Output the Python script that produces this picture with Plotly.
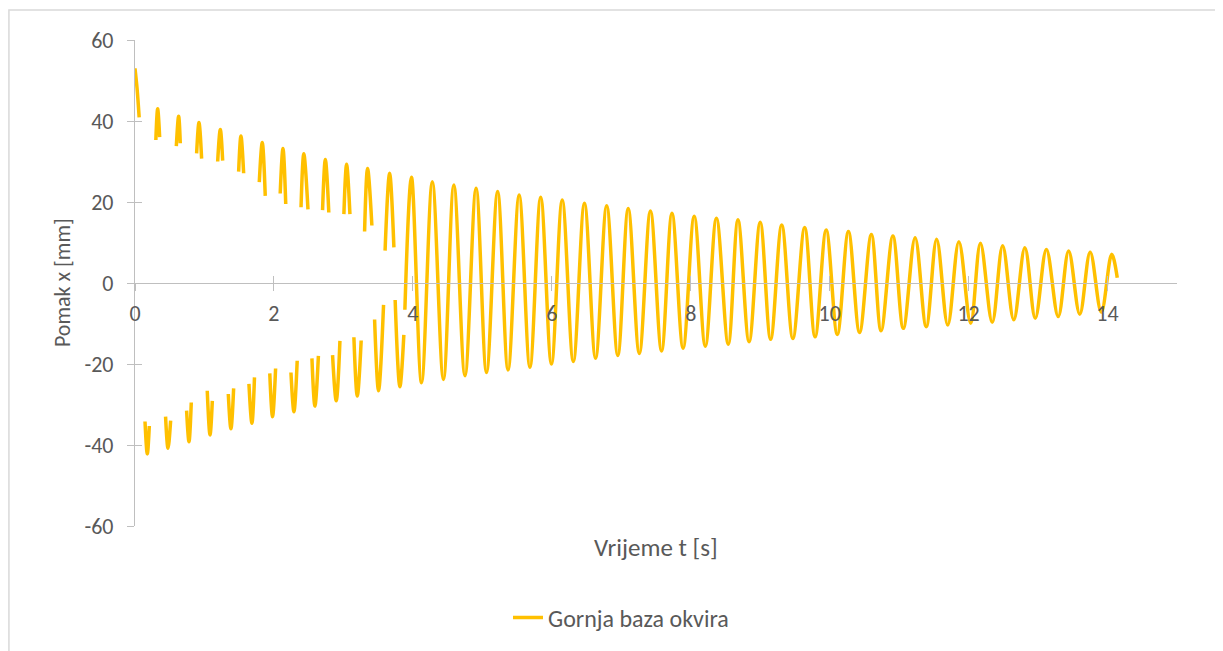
import plotly.graph_objects as go

# ---- data ----
# early part: only fragments near peaks / troughs exist (gaps = None)
early_t = [
    0.00, 0.03, 0.06, None,
    0.144, 0.177, 0.206, None,
    0.30, 0.326, 0.355, None,
    0.44, 0.475, 0.513, None,
    0.595, 0.628, 0.652, None,
    0.743, 0.777, 0.81, None,
    0.887, 0.921, 0.959, None,
    1.04, 1.08, 1.113, None,
    1.19, 1.228, 1.262, None,
    1.343, 1.381, 1.42, None,
    1.492, 1.525, 1.564, None,
    1.64, 1.683, 1.72, None,
    1.789, 1.832, 1.875, None,
    1.94, 1.98, 2.024, None,
    2.09, 2.13, 2.17, None,
    2.245, 2.288, 2.335, None,
    2.39, 2.43, 2.49, None,
    2.547, 2.59, 2.64, None,
    2.70, 2.74, 2.79, None,
    2.844, 2.897, 2.95, None,
    3.007, 3.046, 3.094, None,
    3.151, 3.20, 3.256, None,
    3.305, 3.348, 3.41, None,
    3.449, 3.506, 3.578, None,
    3.60, 3.665, 3.727, None,
    3.745, 3.813, 3.87, None,
]
early_x = [
    53.0, 48.0, 40.9, None,
    -34.2, -42.2, -35.3, None,
    35.3, 43.0, 36.0, None,
    -33.0, -40.8, -34.0, None,
    33.8, 41.2, 34.5, None,
    -31.5, -39.2, -29.5, None,
    32.0, 39.6, 30.7, None,
    -26.6, -37.5, -29.1, None,
    30.0, 37.9, 30.2, None,
    -27.4, -36.0, -26.0, None,
    27.5, 36.3, 27.1, None,
    -24.9, -34.6, -23.3, None,
    24.9, 34.7, 21.5, None,
    -22.3, -33.0, -21.1, None,
    22.1, 33.2, 19.5, None,
    -22.1, -31.8, -19.2, None,
    18.7, 31.9, 18.2, None,
    -18.6, -30.4, -18.0, None,
    18.0, 30.5, 17.4, None,
    -17.8, -29.1, -14.3, None,
    17.0, 29.3, 17.0, None,
    -13.4, -27.9, -14.2, None,
    12.7, 28.3, 14.2, None,
    -9.0, -26.6, -5.4, None,
    8.0, 27.1, 8.8, None,
    -4.2, -25.6, -12.8, None,
]

# continuous oscillation (extremes)
osc_t = [3.885, 3.98, 4.125, 4.28, 4.44, 4.59, 4.75, 4.91, 5.06, 5.22, 5.37,
         5.53, 5.685, 5.84, 5.995, 6.15, 6.31, 6.47, 6.63, 6.79, 6.95, 7.10,
         7.26, 7.42, 7.58, 7.73, 7.89, 8.05, 8.21, 8.37, 8.54, 8.68, 8.84,
         9.00, 9.15, 9.31, 9.47, 9.64, 9.79, 9.95, 10.11, 10.27, 10.43, 10.60,
         10.74, 10.91, 11.06, 11.23, 11.39, 11.54, 11.70, 11.86, 12.03, 12.17,
         12.34, 12.49, 12.65, 12.81, 12.96, 13.12, 13.29, 13.44, 13.60, 13.75,
         13.91, 14.06, 14.14]
osc_x = [-6.6, 26.1, -24.6, 25.0, -23.8, 24.2, -22.9, 23.4, -22.1, 22.6, -21.5,
         21.7, -20.8, 21.2, -20.0, 20.5, -19.4, 19.7, -18.6, 19.1, -17.9, 18.4,
         -17.4, 17.8, -16.8, 17.2, -16.1, 16.5, -15.6, 16.0, -15.1, 15.6, -14.5,
         15.0, -13.9, 14.3, -13.7, 13.7, -13.3, 13.1, -12.7, 12.7, -12.2, 12.0,
         -11.8, 11.6, -11.2, 11.2, -10.8, 10.8, -10.4, 10.2, -9.95, 9.8,
         -9.7, 9.2, -9.1, 8.7, -8.7, 8.3, -8.3, 7.9, -7.7, 7.6,
         -7.2, 7.1, 1.3]

x_ticks = [0, 2, 4, 6, 8, 10, 12, 14]
x_ticklabels = ["0", "2", "4", "6", "8", "10", "12", "14"]
y_ticks = [-60, -40, -20, 0, 20, 40, 60]
y_ticklabels = ["-60", "-40", "-20", "0", "20", "40", "60"]

series_name = "Gornja baza okvira"
x_title = "Vrijeme t [s]"
y_title = "Pomak x [mm]"

# ---- styling ----
FONT = "Carlito, Calibri, Lato, sans-serif"
TXT = "#595959"
AX = "#BFBFBF"
GOLD = "#FFC000"

t_all = early_t + osc_t
x_all = early_x + osc_x

fig = go.Figure()
fig.add_trace(go.Scatter(
    x=t_all, y=x_all, mode="lines", name=series_name,
    line=dict(color=GOLD, width=3.5, shape="spline", smoothing=1.0),
    connectgaps=False,
))
# empty helper trace so the overlay axes (inner tick halves) are drawn
fig.add_trace(go.Scatter(x=[], y=[], xaxis="x2", yaxis="y2",
                         showlegend=False, hoverinfo="skip"))

common_ax = dict(showgrid=False, zeroline=False, tickcolor=AX,
                 tickwidth=1.3, ticklen=7)

fig.update_layout(
    width=1223, height=651, autosize=False,
    margin=dict(l=127, r=54, t=32, b=133),
    paper_bgcolor="white", plot_bgcolor="white",
    font=dict(family=FONT, color=TXT, size=22),
    xaxis=dict(range=[0, 15], tickvals=x_ticks, ticktext=x_ticklabels,
               ticks="outside",
               showline=True, linecolor=AX, linewidth=1.3,
               anchor="free", position=0.5, ticklabelstandoff=3,
               tickfont=dict(size=22, color=TXT), **common_ax),
    xaxis2=dict(range=[0, 15], tickvals=x_ticks, ticks="inside",
                overlaying="x", anchor="free", position=0.5,
                showline=False, showticklabels=False, **common_ax),
    yaxis=dict(range=[-60, 60], tickvals=y_ticks, ticktext=y_ticklabels,
               ticks="outside",
               showline=True, linecolor=AX, linewidth=1.3,
               ticklabelstandoff=9, tickfont=dict(size=22, color=TXT),
               **common_ax),
    yaxis2=dict(range=[-60, 60], tickvals=y_ticks, ticks="inside",
                overlaying="y", anchor="x", side="left",
                showline=False, showticklabels=False, **common_ax),
    showlegend=True,
    legend=dict(orientation="h", x=0.4664, xanchor="center",
                y=-0.189, yanchor="middle",
                font=dict(size=24, color=TXT), bgcolor="rgba(0,0,0,0)"),
    annotations=[
        dict(text=x_title, xref="paper", yref="paper", x=0.5, y=-0.045,
             xanchor="center", yanchor="middle", showarrow=False,
             font=dict(size=25, color=TXT, family=FONT)),
        dict(text=y_title, xref="paper", yref="paper", x=-0.070, y=0.5,
             xanchor="center", yanchor="middle", textangle=-90,
             showarrow=False, font=dict(size=22, color=TXT, family=FONT)),
    ],
    shapes=[
        dict(type="rect", xref="paper", yref="paper",
             x0=-0.121, x1=1.0374, y0=-0.30, y1=1.0617,
             line=dict(color="#D9D9D9", width=1.5), fillcolor="rgba(0,0,0,0)",
             layer="below"),
    ],
)

fig.write_html("out.html")
